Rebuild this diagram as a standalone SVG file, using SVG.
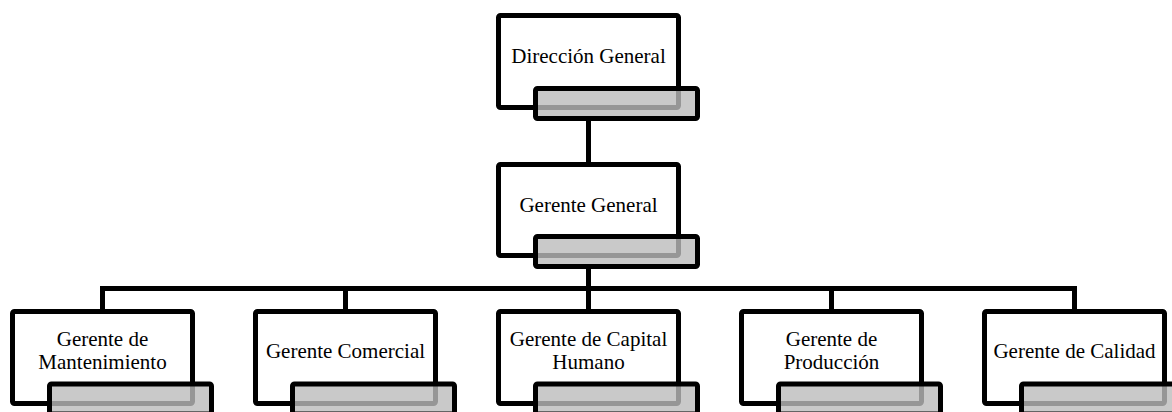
<svg xmlns="http://www.w3.org/2000/svg" width="1172" height="412" viewBox="0 0 1172 412">
<style>
.box{fill:#fff;stroke:#000;stroke-width:5}
.tab{fill:#bbbbbb;fill-opacity:0.8;stroke:#000;stroke-width:5}
.lbl{font-family:'Liberation Serif',Tinos,'Times New Roman',Times,'DejaVu Serif',serif;font-size:21px;fill:#000;text-anchor:middle}
.conn{fill:none;stroke:#000;stroke-width:5;stroke-linejoin:miter}
</style>
<rect width="1172" height="412" fill="#fff"/>
<g id="connectors">
<path class="conn" d="M588.5 120 V166"/>
<path class="conn" d="M588.5 266 V288.5"/>
<path class="conn" d="M102.5 313 V288.5 H1074.5 V313"/>
<path class="conn" d="M345.5 288.5 V313"/>
<path class="conn" d="M588.5 288.5 V313"/>
<path class="conn" d="M831.5 288.5 V313"/>
</g>
<g id="n-direccion">
<rect class="box" x="498.5" y="15.5" width="180" height="92" rx="2"/>
<rect class="tab" x="535.5" y="88.5" width="162" height="30" rx="2"/>
<text class="lbl" x="588.5" y="63" font-family="Liberation Serif">Dirección General</text>
</g>
<g id="n-gerente-general">
<rect class="box" x="498.5" y="164.5" width="180" height="91" rx="2"/>
<rect class="tab" x="535.5" y="236.5" width="162" height="30" rx="2"/>
<text class="lbl" x="588.5" y="212">Gerente General</text>
</g>
<g id="n-mantenimiento">
<rect class="box" x="12.5" y="311.5" width="180" height="92" rx="2"/>
<rect class="tab" x="49.5" y="384" width="162" height="30" rx="2"/>
<text class="lbl" x="102.5" y="346">Gerente de</text>
<text class="lbl" x="102.5" y="369">Mantenimiento</text>
</g>
<g id="n-comercial">
<rect class="box" x="255.5" y="311.5" width="180" height="92" rx="2"/>
<rect class="tab" x="292.5" y="384" width="162" height="30" rx="2"/>
<text class="lbl" x="345.5" y="358">Gerente Comercial</text>
</g>
<g id="n-capital-humano">
<rect class="box" x="498.5" y="311.5" width="180" height="92" rx="2"/>
<rect class="tab" x="535.5" y="384" width="162" height="30" rx="2"/>
<text class="lbl" x="588.5" y="346">Gerente de Capital</text>
<text class="lbl" x="588.5" y="369">Humano</text>
</g>
<g id="n-produccion">
<rect class="box" x="741.5" y="311.5" width="180" height="92" rx="2"/>
<rect class="tab" x="778.5" y="384" width="162" height="30" rx="2"/>
<text class="lbl" x="831.5" y="346">Gerente de</text>
<text class="lbl" x="831.5" y="369">Producción</text>
</g>
<g id="n-calidad">
<rect class="box" x="984.5" y="311.5" width="180" height="92" rx="2"/>
<rect class="tab" x="1021.5" y="384" width="162" height="30" rx="2"/>
<text class="lbl" x="1074.5" y="358">Gerente de Calidad</text>
</g>
</svg>
